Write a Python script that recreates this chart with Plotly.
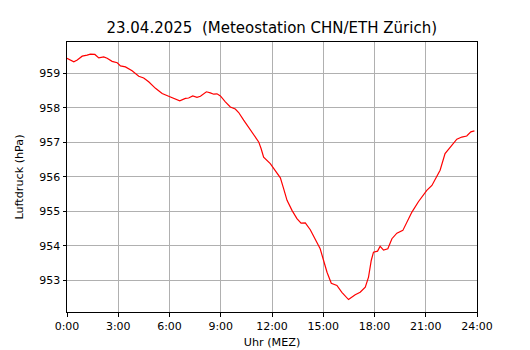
import plotly.graph_objects as go

hours = [0.0, 0.4, 0.6, 0.89, 1.18, 1.37, 1.63, 1.86, 2.15, 2.35, 2.64, 2.94, 3.13, 3.42,
         3.81, 4.2, 4.49, 4.78, 5.18, 5.57, 5.95, 6.35, 6.6, 6.93, 7.12, 7.36, 7.61, 7.81,
         8.16, 8.39, 8.59, 8.78, 8.98, 9.27, 9.56, 9.85, 10.05, 10.34, 10.73, 10.92, 11.22,
         11.36, 11.51, 11.9, 12.19, 12.49, 12.68, 12.88, 13.17, 13.46, 13.7, 13.95, 14.24,
         14.53, 14.82, 15.02, 15.22, 15.47, 15.8, 16.09, 16.48, 16.87, 17.16, 17.46, 17.65,
         17.81, 17.94, 18.18, 18.33, 18.53, 18.78, 19.02, 19.31, 19.66, 19.89, 20.19, 20.57,
         21.06, 21.36, 21.65, 21.84, 22.13, 22.53, 22.82, 23.11, 23.4, 23.64, 23.85]
pressure = [959.43, 959.33, 959.38, 959.49, 959.52, 959.55, 959.54, 959.44, 959.47, 959.43,
            959.34, 959.30, 959.21, 959.18, 959.07, 958.91, 958.86, 958.75, 958.56, 958.41,
            958.33, 958.25, 958.20, 958.27, 958.28, 958.34, 958.30, 958.33, 958.46, 958.43,
            958.39, 958.40, 958.34, 958.17, 958.02, 957.96, 957.86, 957.64, 957.35, 957.20,
            957.01, 956.82, 956.57, 956.38, 956.19, 955.97, 955.66, 955.32, 955.03, 954.79,
            954.66, 954.67, 954.47, 954.21, 953.92, 953.58, 953.24, 952.92, 952.86, 952.66,
            952.45, 952.59, 952.66, 952.81, 953.10, 953.58, 953.82, 953.85, 953.99, 953.88,
            953.92, 954.21, 954.37, 954.45, 954.69, 954.98, 955.28, 955.61, 955.75, 955.99,
            956.19, 956.67, 956.91, 957.09, 957.15, 957.18, 957.30, 957.33]

x_tickvals = [0, 3, 6, 9, 12, 15, 18, 21, 24]
x_ticklabels = ["0:00", "3:00", "6:00", "9:00", "12:00", "15:00", "18:00", "21:00", "24:00"]
y_tickvals = [953, 954, 955, 956, 957, 958, 959]

title_text = "23.04.2025  (Meteostation CHN/ETH Zürich)"

# page body has an 8px default margin, so the figure is sized to fit the window
W, H = 522, 342

fig = go.Figure()
fig.add_trace(go.Scatter(x=hours, y=pressure, mode="lines",
                         line=dict(color="red", width=1.2), showlegend=False))

font = "DejaVu Sans"
fig.update_layout(
    width=W, height=H,
    margin=dict(l=58.5, r=53, t=34, b=37.7, pad=0, autoexpand=False),
    paper_bgcolor="white", plot_bgcolor="white",
    font=dict(family=font, size=11, color="black"),
    title=dict(text=title_text, x=263.75 / W, xanchor="center",
               y=1 - 20 / H, yanchor="middle",
               font=dict(family=font, size=15, color="black")),
)
fig.update_xaxes(
    range=[0, 24], tickvals=x_tickvals, ticktext=x_ticklabels,
    showgrid=True, gridcolor="#b0b0b0", gridwidth=1,
    showline=True, linecolor="black", linewidth=1, mirror=True,
    ticks="outside", ticklen=3.5, tickcolor="black", tickwidth=1,
    zeroline=False, automargin=False,
    title=dict(text="Uhr (MEZ)", font=dict(family=font, size=11.2), standoff=6),
)
fig.update_yaxes(
    range=[952.09, 959.9], tickvals=y_tickvals,
    showgrid=True, gridcolor="#b0b0b0", gridwidth=1,
    showline=True, linecolor="black", linewidth=1, mirror=True,
    ticks="outside", ticklen=3.5, tickcolor="black", tickwidth=1,
    zeroline=False, automargin=False,
    title=dict(text="Luftdruck (hPa)", font=dict(family=font, size=11.2), standoff=13),
)

fig.write_html("out.html")
